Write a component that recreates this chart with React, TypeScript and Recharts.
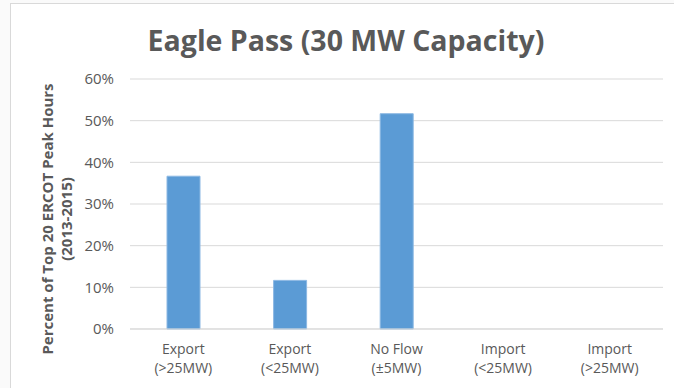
import React from 'react';
import { BarChart, Bar, XAxis, YAxis, CartesianGrid } from 'recharts';

const FONT = '"Open Sans", "Noto Sans", sans-serif';
const GREY = '#595959';

// categories (two lines each) and share of the top-20 peak hours
const categoryLine1 = ['Export', 'Export', 'No Flow', 'Import', 'Import'];
const categoryLine2 = ['(>25MW)', '(<25MW)', '(±5MW)', '(<25MW)', '(>25MW)'];
const shareValues = [0.3667, 0.1167, 0.5167, 0, 0];
const yTicks = [0, 0.1, 0.2, 0.3, 0.4, 0.5, 0.6];

const data = categoryLine1.map((c, i) => ({
  name: c + ' ' + categoryLine2[i],
  value: shareValues[i],
}));

const XTick = (props: any) => {
  const { x, index } = props;
  return (
    <g>
      <text x={x} y={354} textAnchor="middle" fontSize={14} fill={GREY} fontFamily={FONT}>
        {categoryLine1[index]}
      </text>
      <text x={x} y={373} textAnchor="middle" fontSize={14} fill={GREY} fontFamily={FONT}>
        {categoryLine2[index]}
      </text>
    </g>
  );
};

const YLabel = () => {
  const cy = 219;
  return (
    <g fontFamily={FONT} fontWeight="bold" fontSize={15} fill={GREY}>
      <text x={47} y={cy} textAnchor="middle" dominantBaseline="central" transform={`rotate(-90, 47, ${cy})`}>
        Percent of Top 20 ERCOT Peak Hours
      </text>
      <text x={66} y={cy} textAnchor="middle" dominantBaseline="central" transform={`rotate(-90, 66, ${cy})`}>
        (2013-2015)
      </text>
    </g>
  );
};

const App: React.FC = () => {
  return (
    <div style={{ position: 'absolute', left: 0, top: 0, width: 674, height: 388, background: '#fafafa', overflow: 'hidden' }}>
      <div style={{ position: 'absolute', left: 10, top: 3, width: 680, height: 400, background: '#fff', borderTop: '1.5px solid #d9d9d9', borderLeft: '1.5px solid #d9d9d9' }} />
      <div style={{ position: 'absolute', left: 0, top: 20, width: 692, textAlign: 'center', fontFamily: FONT, fontWeight: 'bold', fontSize: 28.5, color: GREY, lineHeight: '40px' }}>
        Eagle Pass (30 MW Capacity)
      </div>
      <div style={{ position: 'absolute', left: 0, top: 0 }}>
        <BarChart width={674} height={388} data={data} margin={{ top: 79, right: 11, bottom: 0, left: 0 }} barSize={33}>
          <CartesianGrid vertical={false} stroke="#d9d9d9" />
          <XAxis dataKey="name" height={59} tickLine={false} axisLine={{ stroke: '#d9d9d9' }} tick={<XTick />} interval={0} />
          <YAxis
            width={130}
            domain={[0, 0.6]}
            ticks={yTicks}
            tickFormatter={(v: number) => `${Math.round(v * 100)}%`}
            axisLine={false}
            tickLine={false}
            tickSize={0}
            tickMargin={16}
            tick={{ fontSize: 15, fill: GREY, fontFamily: FONT }}
            label={<YLabel />}
          />
          <Bar dataKey="value" fill="#5b9bd5" stroke="#8cb8e3" strokeWidth={1} isAnimationActive={false} />
        </BarChart>
      </div>
    </div>
  );
};

export default App;
